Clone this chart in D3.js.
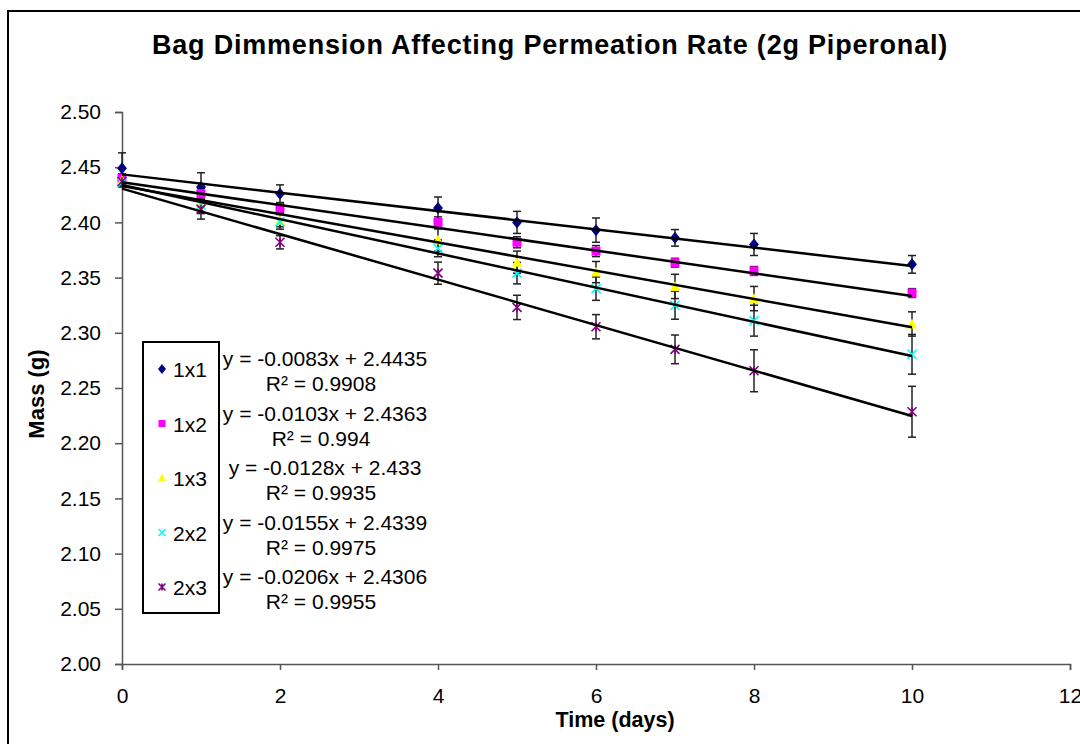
<!DOCTYPE html>
<html>
<head>
<meta charset="utf-8">
<script src="https://cdn.jsdelivr.net/npm/d3@7"></script>
<style>
  html, body { margin: 0; padding: 0; background: #fff; }
  svg { display: block; font-family: Arial, "Liberation Sans", sans-serif; }
</style>
</head>
<body>
<svg id="chart" width="1080" height="744"></svg>
<script>
// Days of measurement
const days = [0, 1, 2, 4, 5, 6, 7, 8, 10];

// Mean mass (g) per bag dimension
const mass1x1 = [2.449, 2.432, 2.426, 2.413, 2.400, 2.393, 2.386, 2.380, 2.362];
const mass1x2 = [2.440, 2.426, 2.413, 2.400, 2.382, 2.374, 2.3635, 2.356, 2.336];
const mass1x3 = [2.438, 2.416, 2.402, 2.384, 2.364, 2.355, 2.342, 2.331, 2.308];
const mass2x2 = [2.436, 2.416, 2.4005, 2.3765, 2.354, 2.340, 2.325, 2.311, 2.2805];
const mass2x3 = [2.437, 2.412, 2.382, 2.354, 2.323, 2.3055, 2.285, 2.2656, 2.2285];

// Error bar half-widths (g)
const err1x1 = [0.014, 0.013, 0.008, 0.010, 0.010, 0.011, 0.0075, 0.010, 0.008];
const err1x2 = [0.004, 0.005, 0.004, 0.005, 0.005, 0.005, 0.004, 0.004, 0.004];
const err1x3 = [0.004, 0.008, 0.006, 0.010, 0.010, 0.0096, 0.011, 0.011, 0.011];
const err2x2 = [0.004, 0.007, 0.0066, 0.0076, 0.0097, 0.0106, 0.0127, 0.014, 0.018];
const err2x3 = [0.004, 0.009, 0.006, 0.010, 0.011, 0.011, 0.013, 0.019, 0.023];

// Series names and linear trend parameters
const seriesNames = ["1x1", "1x2", "1x3", "2x2", "2x3"];
const slopes = [-0.0083, -0.0103, -0.0128, -0.0155, -0.0206];
const intercepts = [2.4435, 2.4363, 2.433, 2.4339, 2.4306];
const slopeLabels = ["-0.0083", "-0.0103", "-0.0128", "-0.0155", "-0.0206"];
const interceptLabels = ["2.4435", "2.4363", "2.433", "2.4339", "2.4306"];
const r2Labels = ["0.9908", "0.994", "0.9935", "0.9975", "0.9955"];

// Axis ticks
const xTicks = [0, 2, 4, 6, 8, 10, 12];
const yTicks = [2.00, 2.05, 2.10, 2.15, 2.20, 2.25, 2.30, 2.35, 2.40, 2.45, 2.50];

const title = "Bag Dimmension Affecting Permeation Rate (2g Piperonal)";
const xTitle = "Time (days)";
const yTitle = "Mass (g)";

const colors = ["#000080", "#ff00ff", "#ffff00", "#00ffff", "#800080"];
const shapes = ["diamond", "square", "triangle", "cross", "star"];
const massSets = [mass1x1, mass1x2, mass1x3, mass2x2, mass2x3];
const errSets = [err1x1, err1x2, err1x3, err2x2, err2x3];

const series = seriesNames.map((name, i) => ({
  name, color: colors[i], shape: shapes[i],
  slope: slopes[i], intercept: intercepts[i],
  points: days.map((d, j) => ({ x: d, y: massSets[i][j], e: errSets[i][j] }))
}));

const svg = d3.select("#chart");

// Outer chart frame
svg.append("rect")
  .attr("x", 8).attr("y", 11).attr("width", 1100).attr("height", 760)
  .attr("fill", "#fff").attr("stroke", "#000").attr("stroke-width", 2);

const plot = { left: 122, right: 1070, top: 112, bottom: 664 };
const x = d3.scaleLinear().domain([0, 12]).range([plot.left, plot.right]);
const y = d3.scaleLinear().domain([2.0, 2.5]).range([plot.bottom, plot.top]);

// Title
svg.append("text")
  .attr("x", 550).attr("y", 54)
  .attr("text-anchor", "middle")
  .attr("font-size", 27).attr("font-weight", "bold")
  .attr("letter-spacing", 0.8)
  .text(title);

// Axes
const axisColor = "#555";
const yAxis = svg.append("g")
  .attr("transform", `translate(${plot.left},0)`)
  .call(d3.axisLeft(y).tickValues(yTicks).tickFormat(d3.format(".2f")).tickSize(7).tickPadding(14));
const xAxis = svg.append("g")
  .attr("transform", `translate(0,${plot.bottom})`)
  .call(d3.axisBottom(x).tickValues(xTicks).tickFormat(d3.format("d")).tickSize(6).tickPadding(18));
[xAxis, yAxis].forEach(g => {
  g.select(".domain").attr("stroke", axisColor).attr("stroke-width", 1.5);
  g.selectAll(".tick line").attr("stroke", axisColor).attr("stroke-width", 1.5);
  g.selectAll(".tick text").attr("fill", "#000").attr("font-size", 21)
    .attr("font-family", "Arial, 'Liberation Sans', sans-serif");
});

// Axis titles
svg.append("text")
  .attr("x", 615).attr("y", 727)
  .attr("text-anchor", "middle")
  .attr("font-size", 21.5).attr("font-weight", "bold")
  .text(xTitle);
svg.append("text")
  .attr("transform", `translate(44,394) rotate(-90)`)
  .attr("text-anchor", "middle")
  .attr("font-size", 22).attr("font-weight", "bold")
  .text(yTitle);

// Marker drawing
function drawMarker(g, shape, color, cx, cy, s) {
  const h = s / 2;
  if (shape === "diamond") {
    g.append("path").attr("d", `M${cx},${cy - h - 1}L${cx + h},${cy}L${cx},${cy + h + 1}L${cx - h},${cy}Z`)
      .attr("fill", color).attr("stroke", color).attr("stroke-width", 0.8);
  } else if (shape === "square") {
    g.append("rect").attr("x", cx - h).attr("y", cy - h).attr("width", s).attr("height", s)
      .attr("fill", color);
  } else if (shape === "triangle") {
    g.append("path").attr("d", `M${cx},${cy - h - 1}L${cx + h + 0.5},${cy + h}L${cx - h - 0.5},${cy + h}Z`)
      .attr("fill", color);
  } else if (shape === "cross") {
    g.append("path").attr("d", `M${cx - h},${cy - h}L${cx + h},${cy + h}M${cx - h},${cy + h}L${cx + h},${cy - h}`)
      .attr("stroke", color).attr("stroke-width", 1.6).attr("fill", "none");
  } else if (shape === "star") {
    g.append("path").attr("d", `M${cx - h},${cy - h}L${cx + h},${cy + h}M${cx - h},${cy + h}L${cx + h},${cy - h}M${cx},${cy - h}L${cx},${cy + h}`)
      .attr("stroke", color).attr("stroke-width", 1.6).attr("fill", "none");
  }
}

// Error bars
const errG = svg.append("g");
series.forEach(s => {
  s.points.forEach(p => {
    const px = x(p.x), y1 = y(p.y + p.e), y2 = y(p.y - p.e);
    errG.append("line").attr("x1", px).attr("x2", px).attr("y1", y1).attr("y2", y2)
      .attr("stroke", "#222").attr("stroke-width", 1.5);
    [y1, y2].forEach(yy => errG.append("line")
      .attr("x1", px - 4).attr("x2", px + 4).attr("y1", yy).attr("y2", yy)
      .attr("stroke", "#222").attr("stroke-width", 1.5));
  });
});

// Data markers
const markG = svg.append("g");
series.forEach(s => {
  s.points.forEach(p => drawMarker(markG, s.shape, s.color, x(p.x), y(p.y), 9));
});

// Linear trend lines
const trendG = svg.append("g");
series.forEach(s => {
  const x0 = 0, x1 = 10;
  trendG.append("line")
    .attr("x1", x(x0)).attr("y1", y(s.intercept + s.slope * x0))
    .attr("x2", x(x1)).attr("y2", y(s.intercept + s.slope * x1))
    .attr("stroke", "#000").attr("stroke-width", 2.5);
});

// Legend
const legend = svg.append("g");
legend.append("rect")
  .attr("x", 143).attr("y", 342).attr("width", 76).attr("height", 271)
  .attr("fill", "#fff").attr("stroke", "#000").attr("stroke-width", 2);
const rowY = d3.scaleLinear().domain([0, 4]).range([369, 587]);
series.forEach((s, i) => {
  const cy = rowY(i);
  drawMarker(legend, s.shape, s.color, 162, cy, 7);
  legend.append("text").attr("x", 173).attr("y", cy + 8)
    .attr("font-size", 21).text(s.name);
});

// Trend equations and R² labels
const eqG = svg.append("g");
series.forEach((s, i) => {
  const cy = 358 + i * 54.5;
  eqG.append("text").attr("x", 325).attr("y", cy + 8)
    .attr("text-anchor", "middle").attr("font-size", 21)
    .text(`y = ${slopeLabels[i]}x + ${interceptLabels[i]}`);
  eqG.append("text").attr("x", 321).attr("y", cy + 33)
    .attr("text-anchor", "middle").attr("font-size", 21)
    .text(`R² = ${r2Labels[i]}`);
});
</script>
</body>
</html>
